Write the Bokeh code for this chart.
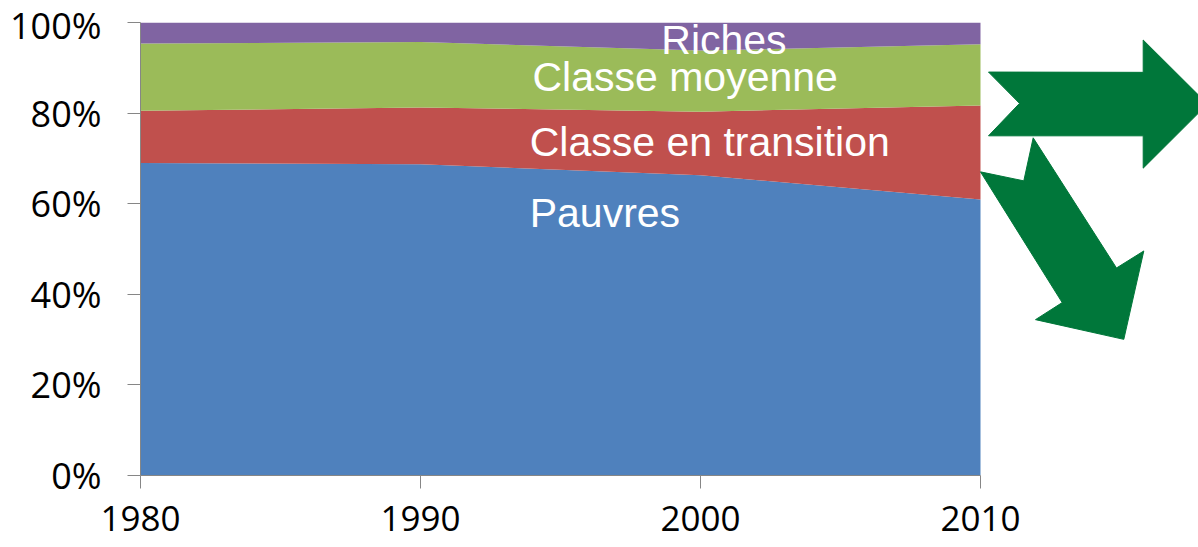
from bokeh.plotting import figure
from bokeh.models import ColumnDataSource, Range1d, PrintfTickFormatter, FixedTicker
from bokeh.embed import file_html
from bokeh.resources import INLINE
from bokeh.core.properties import value

# ---- data ----
years = [1980, 1990, 2000, 2010]
pauvres = [69.0, 68.7, 66.3, 60.9]
transition = [11.5, 12.55, 14.0, 20.8]
moyenne = [14.85, 14.45, 13.5, 13.5]
riches = [4.65, 4.3, 6.2, 4.8]
series_keys = ["pauvres", "transition", "moyenne", "riches"]
series_labels = ["Pauvres", "Classe en transition", "Classe moyenne", "Riches"]
colors = ["#4F81BD", "#C0504D", "#9BBB59", "#8064A2"]
y_ticks = [0, 20, 40, 60, 80, 100]

# label anchor positions (year, percent)
label_x = [1993.9, 1993.9, 1994.0, 1998.6]
label_y = [58.0, 73.6, 88.0, 96.1]

src = ColumnDataSource(dict(year=years, pauvres=pauvres, transition=transition,
                            moyenne=moyenne, riches=riches))

W, H = 1198, 547
FL, FR, FT, FB = 140, 980, 22.5, 475  # frame geometry in pixels (x of 1980/2010, y of 100%/0%)
px_per_year = (FR - FL) / 30.0
x_end = 2010 + (W - FR) / px_per_year

p = figure(width=W, height=H, x_range=Range1d(1980, x_end), y_range=Range1d(0, 100),
           output_backend="svg", toolbar_location=None,
           min_border_left=FL, min_border_right=0, min_border_top=22, min_border_bottom=H - FB)
p.outline_line_color = None
p.xgrid.visible = False
p.ygrid.visible = False
p.background_fill_color = "white"

p.varea_stack(stackers=series_keys, x="year", color=colors, source=src)

# series labels
p.text(x=label_x, y=label_y, text=series_labels, text_color="white",
       text_font=value("Liberation Sans"), text_font_size="41px",
       text_align="left", text_baseline="middle")

# decorative arrows (defined in page pixels, converted to data space)
def px2data(pts):
    xs = [1980 + (px - FL) / px_per_year for px, py in pts]
    ys = [(FB - py) / ((FB - FT) / 100.0) for px, py in pts]
    return xs, ys

arrow_right = [(988, 72), (1142.7, 72.3), (1142.7, 40), (1207, 104), (1142.7, 168),
               (1142.7, 135.7), (988, 135.7), (1019, 103.3)]
arrow_down = [(980, 171.7), (1023.3, 180.7), (1032.7, 137.7), (1116, 267.7), (1143.3, 250.7),
              (1123.3, 339), (1035, 319.3), (1061.7, 302.3)]
for pts in (arrow_right, arrow_down):
    xs, ys = px2data(pts)
    p.patch(xs, ys, color="#00773A", line_color="#00773A")

# axes
for ax in (p.xaxis[0], p.yaxis[0]):
    ax.axis_line_color = "#868686"
    ax.major_tick_line_color = "#868686"
    ax.major_tick_in = 0
    ax.major_tick_out = 13
    ax.minor_tick_line_color = None
    ax.major_label_text_font = "Open Sans"
    ax.major_label_text_color = "black"

p.xaxis.major_label_text_font_size = "35px"
p.yaxis.major_label_text_font_size = "36px"
p.xaxis.ticker = FixedTicker(ticks=years)
p.xaxis.bounds = (1980, 2010)
p.xaxis.major_label_standoff = 17
p.yaxis.ticker = FixedTicker(ticks=y_ticks)
p.yaxis.formatter = PrintfTickFormatter(format="%d%%")
p.yaxis.major_label_standoff = 26

open("out.html", "w").write(file_html(p, INLINE))
